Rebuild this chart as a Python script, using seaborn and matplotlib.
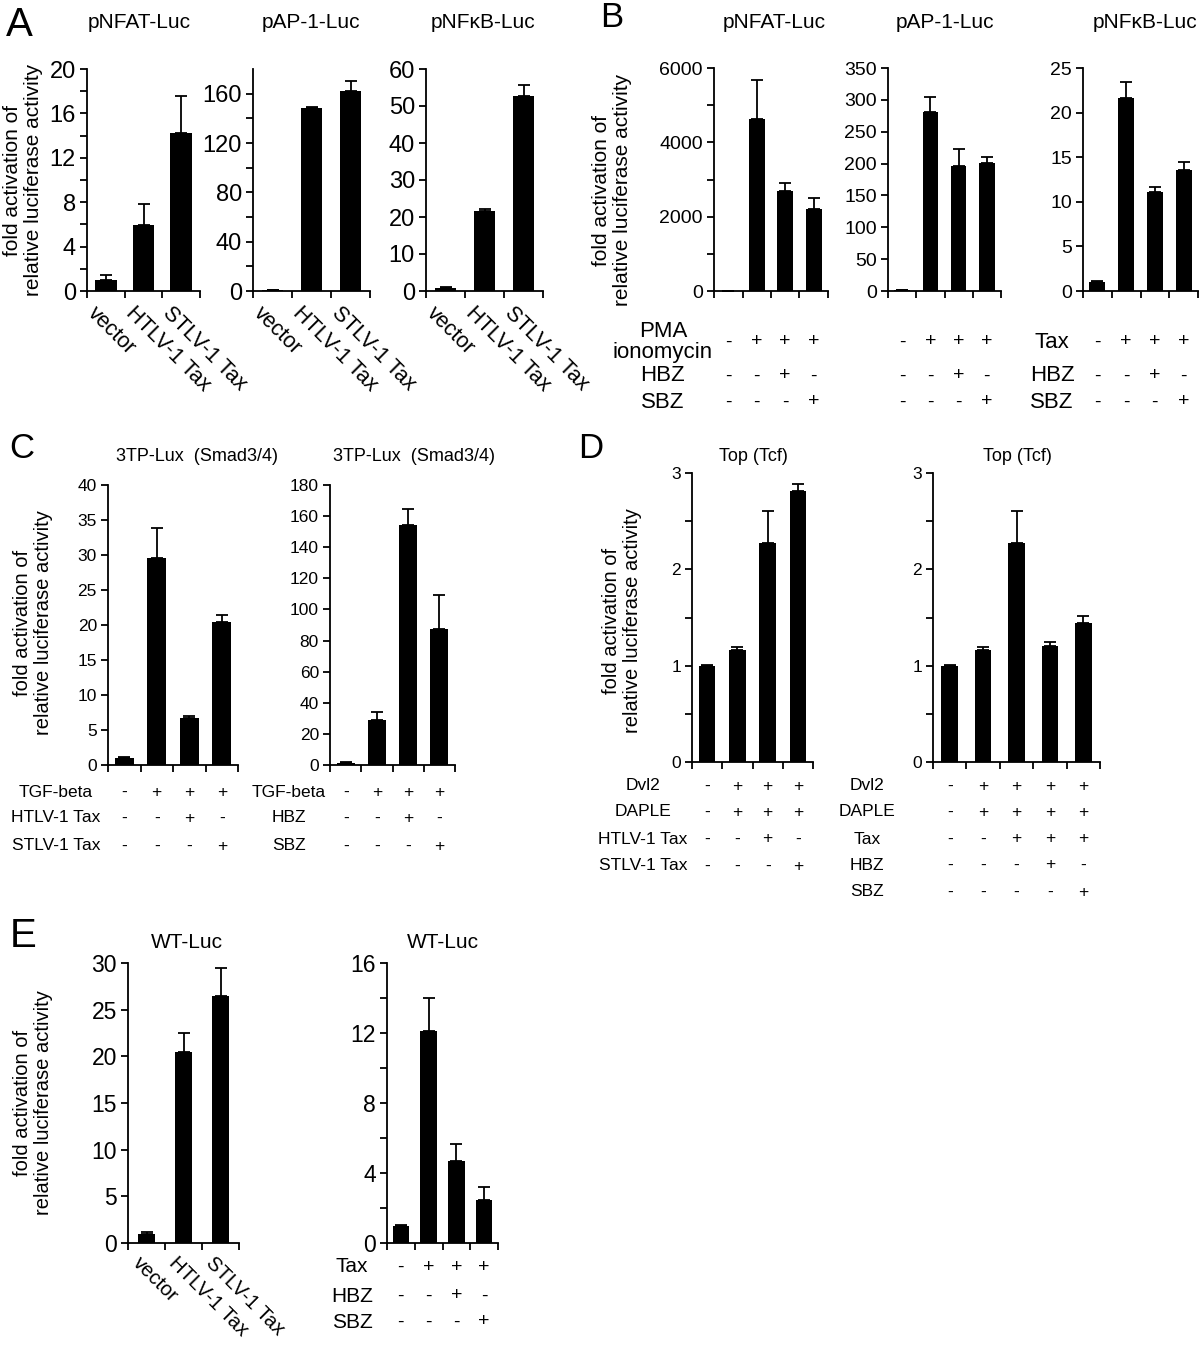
import numpy as np
import pandas as pd
import matplotlib
matplotlib.use("Agg")
import matplotlib.pyplot as plt
import seaborn as sns
from matplotlib.transforms import blended_transform_factory

sns.set_theme(style="ticks")
plt.rcParams["font.family"] = ["Liberation Sans", "DejaVu Sans"]

# ---------------- data ----------------
tax_labels = ["vector", "HTLV-1 Tax", "STLV-1 Tax"]

a_nfat_mean = [1.0, 5.95, 14.2]
a_nfat_err = [0.4, 1.85, 3.4]
a_ap1_mean = [0.6, 148.0, 162.0]
a_ap1_err = [0.3, 1.0, 8.0]
a_nfkb_mean = [0.9, 21.7, 52.8]
a_nfkb_err = [0.3, 0.5, 3.0]

b_pma = ["-", "+", "+", "+"]
b_hbz = ["-", "-", "+", "-"]
b_sbz = ["-", "-", "-", "+"]
b_nfat_mean = [1.0, 4630, 2690, 2205]
b_nfat_err = [0.0, 1050, 215, 296]
b_ap1_mean = [1.0, 281, 196, 201]
b_ap1_err = [0.0, 23, 27, 9]
b_nfkb_mean = [1.0, 21.6, 11.1, 13.6]
b_nfkb_err = [0.1, 1.8, 0.55, 0.9]

c_tgf = ["-", "+", "+", "+"]
c_htax = ["-", "-", "+", "-"]
c_stax = ["-", "-", "-", "+"]
c_tax_mean = [0.95, 29.6, 6.7, 20.5]
c_tax_err = [0.25, 4.2, 0.35, 0.9]
c_hbz = ["-", "-", "+", "-"]
c_sbz = ["-", "-", "-", "+"]
c_bz_mean = [1.1, 29.2, 154.4, 87.6]
c_bz_err = [0.6, 4.9, 10.1, 21.9]

d1_dvl2 = ["-", "+", "+", "+"]
d1_daple = ["-", "+", "+", "+"]
d1_htax = ["-", "-", "+", "-"]
d1_stax = ["-", "-", "-", "+"]
d1_mean = [1.0, 1.163, 2.27, 2.81]
d1_err = [0.01, 0.035, 0.34, 0.076]
d2_dvl2 = ["-", "+", "+", "+", "+"]
d2_daple = ["-", "+", "+", "+", "+"]
d2_tax = ["-", "-", "+", "+", "+"]
d2_hbz = ["-", "-", "-", "+", "-"]
d2_sbz = ["-", "-", "-", "-", "+"]
d2_mean = [1.0, 1.163, 2.27, 1.2, 1.44]
d2_err = [0.01, 0.035, 0.34, 0.042, 0.072]

e1_mean = [0.93, 20.5, 26.5]
e1_err = [0.25, 2.05, 3.0]
e2_tax = ["-", "+", "+", "+"]
e2_hbz = ["-", "-", "+", "-"]
e2_sbz = ["-", "-", "-", "+"]
e2_mean = [0.95, 12.1, 4.7, 2.44]
e2_err = [0.06, 1.9, 0.93, 0.76]

ylab = "fold activation of\nrelative luciferase activity"

# ---------------- figure ----------------
W, H = 1200, 1345
fig = plt.figure(figsize=(W / 100, H / 100), dpi=100)
fig.patch.set_facecolor("white")


def fx(x):
    return x / W


def fy(y):
    return 1 - y / H


def combo(*rows_):
    return ["".join(t) for t in zip(*rows_)]


def panel(rect, cats, means, errs, ymax, major, minor, width, tick_fs):
    l, t, r, b = rect
    ax = fig.add_axes([l / W, 1 - b / H, (r - l) / W, (b - t) / H])
    df = pd.DataFrame({"cond": cats, "val": means})
    sns.barplot(data=df, x="cond", y="val", ax=ax, color="black",
                saturation=1, width=width, errorbar=None, linewidth=0)
    n = len(cats)
    ax.errorbar(np.arange(n), means, yerr=[np.zeros(n), errs], fmt="none",
                ecolor="black", elinewidth=1.3, capsize=4.5, capthick=1.3)
    ax.set_xlim(-0.5, n - 0.5)
    ax.set_ylim(0, ymax)
    ax.set_xticks(np.arange(n + 1) - 0.5)
    ax.set_xticklabels([])
    yt = np.arange(0, ymax + major / 2, major)
    ax.set_yticks(yt)
    ax.set_yticklabels([f"{v:g}" for v in yt])
    if minor:
        ax.set_yticks(np.arange(major / 2, ymax, major), minor=True)
    ax.set_xlabel("")
    ax.set_ylabel("")
    for s in ["top", "right"]:
        ax.spines[s].set_visible(False)
    for s in ["left", "bottom"]:
        ax.spines[s].set_linewidth(1.3)
        ax.spines[s].set_color("black")
    ax.tick_params(axis="both", which="both", direction="out", length=5,
                   width=1.3, color="black", labelsize=tick_fs, pad=3,
                   labelcolor="black")
    ax.set_facecolor("white")
    return ax


def title(x, y, s, fs=13):
    fig.text(fx(x), fy(y), s, ha="center", va="center", fontsize=fs, color="black")


def ylabel(x, y, fs=14.5):
    fig.text(fx(x), fy(y), ylab, ha="center", va="center", rotation=90,
             fontsize=fs, multialignment="center", linespacing=1.1, color="black")


def letter(x, y, s, fs):
    fig.text(fx(x), fy(y), s, ha="left", va="baseline", fontsize=fs, color="black")


def rows(ax, row_vals, row_ys, labels=None, label_x=None, fs=12, sym_fs=None):
    tr = blended_transform_factory(ax.transData, fig.transFigure)
    sym_fs = sym_fs or fs
    for vals, y in zip(row_vals, row_ys):
        for i, v in enumerate(vals):
            ax.text(i, fy(y), v, transform=tr, ha="center", va="center",
                    fontsize=sym_fs, color="black", clip_on=False)
    if labels is not None:
        for lab, y in zip(labels, row_ys):
            fig.text(fx(label_x), fy(y), lab, ha="center", va="center",
                     fontsize=fs, color="black", multialignment="center",
                     linespacing=0.95)


def rot_labels(ax, labs, y, dx, fs):
    tr = blended_transform_factory(ax.transData, fig.transFigure)
    for i, lab in enumerate(labs):
        ax.text(i + dx, fy(y), lab, transform=tr, rotation=-45,
                rotation_mode="anchor", ha="left", va="top", fontsize=fs,
                color="black", clip_on=False)


# ---- Panel A ----
letter(6, 36, "A", 29)
ax = panel((87, 69, 200, 291), tax_labels, a_nfat_mean, a_nfat_err, 20, 4, True, 0.57, 17)
rot_labels(ax, tax_labels, 303, -0.2, 15.5)
title(139, 23, "pNFAT-Luc", 15)
ax = panel((253, 69, 370, 291), tax_labels, a_ap1_mean, a_ap1_err, 180, 40, True, 0.55, 17)
rot_labels(ax, tax_labels, 303, -0.2, 15.5)
title(311, 23, "pAP-1-Luc", 15)
ax = panel((426, 69, 543, 291), tax_labels, a_nfkb_mean, a_nfkb_err, 60, 10, False, 0.55, 17)
rot_labels(ax, tax_labels, 303, -0.2, 15.5)
title(483, 23, "pNFκB-Luc", 15)
ylabel(23, 180, 15)

# ---- Panel B ----
letter(600, 27, "B", 25)
b_cats = combo(b_pma, b_hbz, b_sbz)
ax = panel((714, 68, 828, 291), b_cats, b_nfat_mean, b_nfat_err, 6000, 2000, True, 0.55, 14)
rows(ax, [b_pma, b_hbz, b_sbz], [342, 376, 402],
     ["PMA\nionomycin", "HBZ", "SBZ"], 663, fs=16, sym_fs=14)
title(774, 23, "pNFAT-Luc", 15)
ylabel(612, 190, 15)
ax = panel((888, 68, 1001, 291), b_cats, b_ap1_mean, b_ap1_err, 350, 50, False, 0.55, 14)
rows(ax, [b_pma, b_hbz, b_sbz], [342, 376, 402], fs=16, sym_fs=14)
title(945, 23, "pAP-1-Luc", 15)
ax = panel((1083, 68, 1198, 291), b_cats, b_nfkb_mean, b_nfkb_err, 25, 5, False, 0.55, 14)
rows(ax, [b_pma, b_hbz, b_sbz], [342, 376, 402],
     ["Tax", "HBZ", "SBZ"], 1052, fs=16, sym_fs=14)
title(1145, 23, "pNFκB-Luc", 15)

# ---- Panel C ----
letter(9, 458, "C", 25)
c1_cats = combo(c_tgf, c_htax, c_stax)
ax = panel((108, 485, 238, 765), c1_cats, c_tax_mean, c_tax_err, 40, 5, False, 0.57, 12.5)
rows(ax, [c_tgf, c_htax, c_stax], [792, 818, 846],
     ["TGF-beta", "HTLV-1 Tax", "STLV-1 Tax"], 56, fs=12.5)
title(197, 457, "3TP-Lux  (Smad3/4)")
ylabel(33, 623)
c2_cats = combo(c_tgf, c_hbz, c_sbz)
ax = panel((330, 485, 455, 765), c2_cats, c_bz_mean, c_bz_err, 180, 20, False, 0.57, 12.5)
rows(ax, [c_tgf, c_hbz, c_sbz], [792, 818, 846],
     ["TGF-beta", "HBZ", "SBZ"], 289, fs=12.5)
title(414, 457, "3TP-Lux  (Smad3/4)")

# ---- Panel D ----
letter(578, 458, "D", 25)
d1_cats = combo(d1_dvl2, d1_daple, d1_htax, d1_stax)
ax = panel((692, 473, 813, 762), d1_cats, d1_mean, d1_err, 3, 1, True, 0.55, 12.5)
rows(ax, [d1_dvl2, d1_daple, d1_htax, d1_stax], [786, 812, 839, 866],
     ["Dvl2", "DAPLE", "HTLV-1 Tax", "STLV-1 Tax"], 643, fs=12.5)
title(753, 457, "Top (Tcf)")
ylabel(622, 621)
d2_cats = combo(d2_dvl2, d2_daple, d2_tax, d2_hbz, d2_sbz)
ax = panel((933, 473, 1100, 762), d2_cats, d2_mean, d2_err, 3, 1, True, 0.5, 12.5)
rows(ax, [d2_dvl2, d2_daple, d2_tax, d2_hbz, d2_sbz], [786, 812, 839, 865, 892],
     ["Dvl2", "DAPLE", "Tax", "HBZ", "SBZ"], 867, fs=12.5)
title(1017, 457, "Top (Tcf)")

# ---- Panel E ----
letter(10, 947, "E", 29)
ax = panel((128, 963, 239, 1243), tax_labels, e1_mean, e1_err, 30, 5, False, 0.47, 16.5)
rot_labels(ax, tax_labels, 1253, -0.12, 14.5)
title(187, 942, "WT-Luc", 15)
ylabel(33, 1103)
e2_cats = combo(e2_tax, e2_hbz, e2_sbz)
ax = panel((387, 963, 498, 1243), e2_cats, e2_mean, e2_err, 16, 4, True, 0.6, 16.5)
rows(ax, [e2_tax, e2_hbz, e2_sbz], [1267, 1296, 1322],
     ["Tax", "HBZ", "SBZ"], 352, fs=15, sym_fs=14)
title(443, 942, "WT-Luc", 15)

fig.savefig("out.png", dpi=100, facecolor="white")
